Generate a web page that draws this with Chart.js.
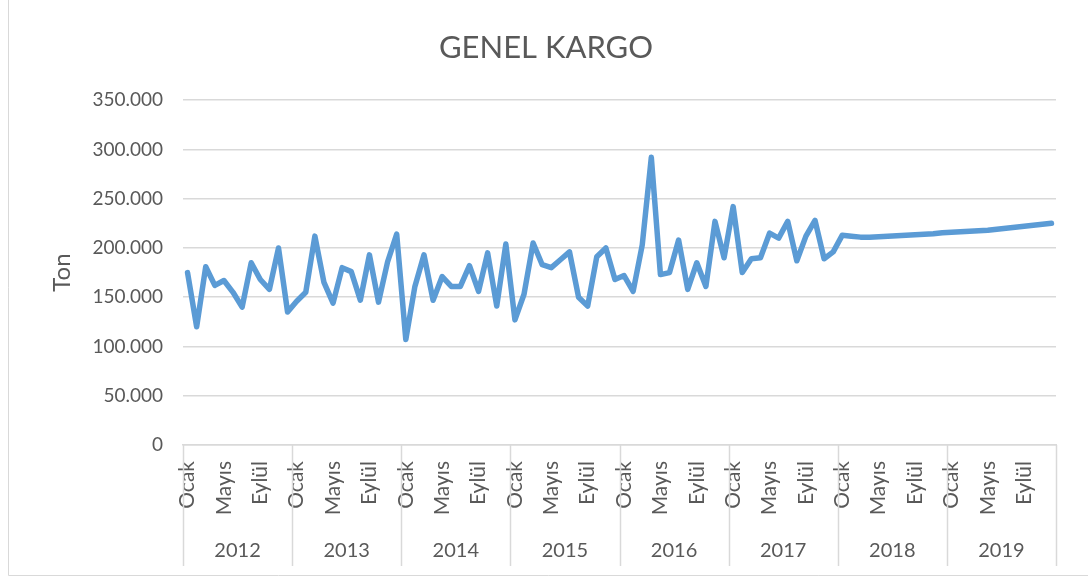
<!DOCTYPE html>
<html>
<head>
<meta charset="utf-8">
<title>Genel Kargo</title>
<script src="https://cdn.jsdelivr.net/npm/chart.js@4"></script>
<style>
	html, body { margin: 0; padding: 0; background: #fff; }
	#wrap { width: 1088px; height: 577px; position: relative; }
</style>
</head>
<body>
<div id="wrap"><canvas id="kargo"></canvas></div>
<script>
// monthly tonnage, one array per year
var years  = ["2012", "2013", "2014", "2015", "2016", "2017", "2018", "2019"];
var months = ["Ocak", "Şubat", "Mart", "Nisan", "Mayıs", "Haziran", "Temmuz", "Ağustos", "Eylül", "Ekim", "Kasım", "Aralık"];

var ton2012 = [175000, 120000, 181000, 162000, 167000, 155000, 140000, 185000, 168000, 158000, 200000, 135000];
var ton2013 = [146000, 155000, 212000, 165000, 144000, 180000, 176000, 147000, 193000, 145000, 186000, 214000];
var ton2014 = [107000, 161000, 193000, 147000, 171000, 161000, 161000, 182000, 156000, 195000, 141000, 204000];
var ton2015 = [127000, 153000, 205000, 183000, 180000, 188000, 196000, 150000, 141000, 191000, 200000, 168000];
var ton2016 = [172000, 156000, 203000, 292000, 173000, 175000, 208000, 158000, 185000, 161000, 227000, 190000];
var ton2017 = [242000, 175000, 189000, 190000, 215000, 210000, 227000, 187000, 212000, 228000, 189000, 196000];
var ton2018 = [213000, 212000, 211000, 211000, 211500, 212000, 212500, 213000, 213500, 214000, 214500, 215500];
var ton2019 = [216000, 216500, 217000, 217500, 218000, 219000, 220000, 221000, 222000, 223000, 224000, 225000];

var yTicks = [0, 50000, 100000, 150000, 200000, 250000, 300000, 350000];

var textColor = '#595959';
var gridColor = '#d9d9d9';
var fontName  = 'Lato';

var labels = [];
years.forEach(function () { labels = labels.concat(months); });
var values = [].concat(ton2012, ton2013, ton2014, ton2015, ton2016, ton2017, ton2018, ton2019);

function trNumber(v) {
	return String(v).replace(/\B(?=(\d{3})+(?!\d))/g, '.');
}

// year row under the month labels + separators + outer frame
var yearAxis = {
	id: 'yearAxis',
	afterDraw: function (chart) {
		var ctx = chart.ctx, x = chart.scales.x, area = chart.chartArea;
		var half = (x.getPixelForValue(1) - x.getPixelForValue(0)) / 2;
		ctx.save();
		ctx.strokeStyle = gridColor;
		ctx.lineWidth = 1.5;
		for (var j = 0; j <= years.length; j++) {
			var px = Math.round(x.getPixelForValue(j * 12) - half) + 0.5;
			ctx.beginPath();
			ctx.moveTo(px, area.bottom);
			ctx.lineTo(px, 566);
			ctx.stroke();
		}
		ctx.fillStyle = textColor;
		ctx.font = '20px ' + fontName;
		ctx.textAlign = 'center';
		ctx.textBaseline = 'middle';
		years.forEach(function (y, j) {
			var c = (x.getPixelForValue(j * 12) + x.getPixelForValue(j * 12 + 11)) / 2;
			ctx.fillText(y, c, 551);
		});
		ctx.lineWidth = 1;
		ctx.beginPath();
		ctx.moveTo(8.5, 0);
		ctx.lineTo(8.5, 575.5);
		ctx.lineTo(1088, 575.5);
		ctx.stroke();
		ctx.restore();
	}
};

window.onload = function () {
	new Chart(document.getElementById('kargo'), {
		type: 'line',
		data: {
			labels: labels,
			datasets: [{
				label: 'Genel Kargo',
				data: values,
				borderColor: '#5b9bd5',
				borderWidth: 5.5,
				borderJoinStyle: 'round',
				borderCapStyle: 'round',
				pointRadius: 0,
				tension: 0,
				fill: false
			}]
		},
		options: {
			responsive: true,
			maintainAspectRatio: false,
			animation: false,
			layout: { padding: { left: 36, right: 32, top: 0, bottom: 0 } },
			plugins: {
				legend: { display: false },
				tooltip: { enabled: false },
				title: {
					display: true,
					text: 'GENEL KARGO',
					color: textColor,
					font: { family: fontName, size: 31, weight: 'normal' },
					padding: { top: 29, bottom: 34 }
				}
			},
			scales: {
				x: {
					offset: true,
					grid: { display: false },
					border: { display: true, color: gridColor, width: 1.5 },
					ticks: {
						autoSkip: false,
						minRotation: 90,
						maxRotation: 90,
						padding: 8,
						color: textColor,
						font: { family: fontName, size: 21 },
						callback: function (val, i) { return i % 4 === 0 ? labels[i] : ''; }
					},
					afterFit: function (scale) { scale.height = 132; }
				},
				y: {
					min: 0,
					max: 350000,
					afterBuildTicks: function (scale) {
						scale.ticks = yTicks.map(function (v) { return { value: v }; });
					},
					grid: { color: gridColor, lineWidth: 1.5, drawTicks: false },
					border: { display: false },
					ticks: {
						padding: 20,
						color: textColor,
						font: { family: fontName, size: 19 },
						callback: function (v) { return trNumber(v); }
					},
					title: {
						display: true,
						text: 'Ton',
						color: textColor,
						font: { family: fontName, size: 24 },
						padding: { top: 12, bottom: 12 }
					},
					afterFit: function (scale) { scale.width = 147; }
				}
			}
		},
		plugins: [yearAxis]
	});
};
</script>
</body>
</html>
